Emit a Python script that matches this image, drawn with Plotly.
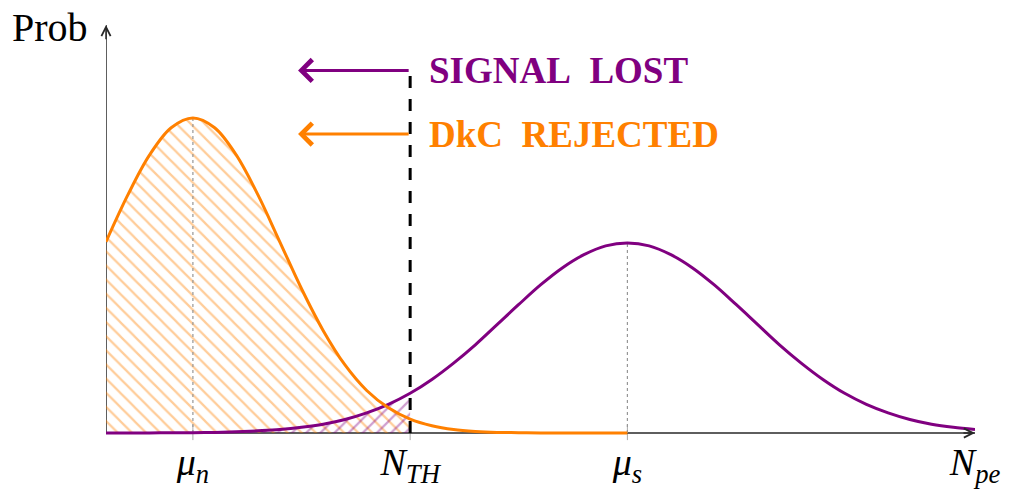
import plotly.graph_objects as go

# ---- data (x in units, probability in relative units) ----
x_noise = [0.0, 0.25, 0.5, 0.75, 1.0, 1.25, 1.5, 1.75, 2.0, 2.25, 2.5, 2.75, 3.0,
           3.25, 3.5, 3.75, 4.0, 4.25, 4.5, 4.75, 5.0, 5.25, 5.5, 5.75, 6.0]
p_noise = [0.607, 0.755, 0.882, 0.969, 1.000, 0.969, 0.882, 0.755, 0.607, 0.458, 0.325, 0.216, 0.135,
           0.080, 0.044, 0.023, 0.011, 0.005, 0.002, 0.001, 0.000, 0.000, 0.000, 0.000, 0.000]

x_signal = [0.0, 0.25, 0.5, 0.75, 1.0, 1.25, 1.5, 1.75, 2.0, 2.25, 2.5, 2.75, 3.0,
            3.25, 3.5, 3.75, 4.0, 4.25, 4.5, 4.75, 5.0, 5.25, 5.5, 5.75, 6.0,
            6.25, 6.5, 6.75, 7.0, 7.25, 7.5, 7.75, 8.0, 8.25, 8.5, 8.75, 9.0,
            9.25, 9.5, 9.75, 10.0]
p_signal = [0.000, 0.000, 0.000, 0.001, 0.001, 0.002, 0.004, 0.007, 0.011, 0.018, 0.028, 0.043, 0.064,
            0.091, 0.126, 0.170, 0.222, 0.280, 0.344, 0.408, 0.470, 0.524, 0.566, 0.594, 0.603,
            0.594, 0.566, 0.524, 0.470, 0.408, 0.344, 0.280, 0.222, 0.170, 0.126, 0.091, 0.064,
            0.043, 0.028, 0.018, 0.011]

mu_n = 1.0
n_th = 3.5
mu_s = 6.0
x_end = 10.0

tick_vals = [mu_n, n_th, mu_s, x_end]
tick_text = ["<i>μ</i><sub><i>n</i></sub>", "<i>N</i><sub><i>TH</i></sub>",
             "<i>μ</i><sub><i>s</i></sub>", "<i>N</i><sub><i>pe</i></sub>"]

label_signal = "SIGNAL&nbsp;&nbsp;LOST"
label_dkc = "DkC&nbsp;&nbsp;REJECTED"
y_title = "Prob"

PURPLE = "rgb(128,0,128)"
ORANGE = "rgb(255,128,0)"
AXIS = "rgb(40,40,40)"
SERIF = "Liberation Serif, Times New Roman, serif"

# scale: 86.9 px per x unit, 315 px per y unit; baseline at px 433
y_top = 1.2952
y_bot = -0.0095

fig = go.Figure()

# hatched areas below threshold
xn_cut = [x for x in x_noise if x <= n_th]
pn_cut = p_noise[:len(xn_cut)]
xs_cut = [x for x in x_signal if x <= n_th]
ps_cut = p_signal[:len(xs_cut)]

fig.add_trace(go.Scatter(
    x=xn_cut, y=pn_cut, mode="lines", line=dict(width=0, shape="spline", color="rgba(0,0,0,0)"),
    fill="tozeroy", fillcolor="rgba(0,0,0,0)",
    fillpattern=dict(shape="\\", fgcolor="rgba(255,128,0,0.8)", bgcolor="rgba(0,0,0,0)",
                     size=10, solidity=0.22),
    hoverinfo="skip", showlegend=False))
fig.add_trace(go.Scatter(
    x=xs_cut, y=ps_cut, mode="lines", line=dict(width=0, shape="spline", color="rgba(0,0,0,0)"),
    fill="tozeroy", fillcolor="rgba(0,0,0,0)",
    fillpattern=dict(shape="/", fgcolor="rgba(128,0,128,0.75)", bgcolor="rgba(0,0,0,0)",
                     size=10, solidity=0.22),
    hoverinfo="skip", showlegend=False))

# dotted guide lines at the means
fig.add_trace(go.Scatter(x=[mu_n, mu_n], y=[0, max(p_noise)], mode="lines",
                         line=dict(color="rgb(150,150,150)", width=1.2, dash="dot"),
                         hoverinfo="skip", showlegend=False))
fig.add_trace(go.Scatter(x=[mu_s, mu_s], y=[0, max(p_signal)], mode="lines",
                         line=dict(color="rgb(150,150,150)", width=1.2, dash="dot"),
                         hoverinfo="skip", showlegend=False))

# threshold dashed line
fig.add_trace(go.Scatter(x=[n_th, n_th], y=[0, 1.159], mode="lines",
                         line=dict(color="black", width=3, dash="12px,11px"),
                         hoverinfo="skip", showlegend=False))

# curves
fig.add_trace(go.Scatter(x=x_signal, y=p_signal, mode="lines",
                         line=dict(color=PURPLE, width=3, shape="spline"),
                         hoverinfo="skip", showlegend=False))
fig.add_trace(go.Scatter(x=x_noise, y=p_noise, mode="lines",
                         line=dict(color=ORANGE, width=3, shape="spline"),
                         hoverinfo="skip", showlegend=False))

shapes = [
    dict(type="line", xref="x", yref="y", x0=0, x1=x_end, y0=0, y1=0,
         line=dict(color=AXIS, width=1.5), layer="below"),
    dict(type="line", xref="x", yref="y", x0=0, x1=0, y0=0, y1=y_top,
         line=dict(color=AXIS, width=1.5), layer="below"),
]
for tv in tick_vals[:3]:
    shapes.append(dict(type="line", xref="x", yref="paper", x0=tv, x1=tv, y0=-0.010, y1=0.027,
                       line=dict(color="rgb(170,170,170)", width=1), layer="below"))

annotations = [
    # axis arrowheads
    dict(x=x_end, y=0, ax=x_end - 0.15, ay=0, xref="x", yref="y", axref="x", ayref="y",
         text="", showarrow=True, arrowhead=5, arrowsize=1.2, arrowwidth=1.5, arrowcolor=AXIS),
    dict(x=0, y=y_top, ax=0, ay=y_top - 0.05, xref="x", yref="y", axref="x", ayref="y",
         text="", showarrow=True, arrowhead=5, arrowsize=1.2, arrowwidth=1.5, arrowcolor=AXIS),
    # threshold arrows
    dict(x=2.21, y=1.151, ax=n_th, ay=1.151, xref="x", yref="y", axref="x", ayref="y",
         text="", showarrow=True, arrowhead=4, arrowsize=1.4, arrowwidth=3, arrowcolor=PURPLE),
    dict(x=2.21, y=0.949, ax=n_th, ay=0.949, xref="x", yref="y", axref="x", ayref="y",
         text="", showarrow=True, arrowhead=4, arrowsize=1.4, arrowwidth=3, arrowcolor=ORANGE),
    # labels
    dict(x=3.69, y=1.151, xref="x", yref="y", xanchor="left", yanchor="middle",
         text="<b>" + label_signal + "</b>", showarrow=False,
         font=dict(family=SERIF, size=37, color=PURPLE)),
    dict(x=3.69, y=0.949, xref="x", yref="y", xanchor="left", yanchor="middle",
         text="<b>" + label_dkc + "</b>", showarrow=False,
         font=dict(family=SERIF, size=37, color=ORANGE)),
    dict(x=-0.0184, y=0.993, xref="paper", yref="paper", xanchor="right", yanchor="middle",
         text=y_title, showarrow=False, font=dict(family=SERIF, size=40, color="black")),
]

fig.update_layout(
    width=1013, height=491,
    margin=dict(l=106, r=38, t=25, b=55, pad=0, autoexpand=False),
    paper_bgcolor="white", plot_bgcolor="white",
    showlegend=False,
    xaxis=dict(range=[0, x_end], showline=False, showgrid=False, zeroline=False,
               ticks="", tickvals=tick_vals, ticktext=tick_text, automargin=False,
               tickfont=dict(family=SERIF, size=38, color="black"), fixedrange=True),
    yaxis=dict(range=[y_bot, y_top], showline=False, showgrid=False, zeroline=False,
               showticklabels=False, ticks="", fixedrange=True, automargin=False),
    shapes=shapes,
    annotations=annotations,
)

fig.write_html("out.html", config={"displayModeBar": False})
